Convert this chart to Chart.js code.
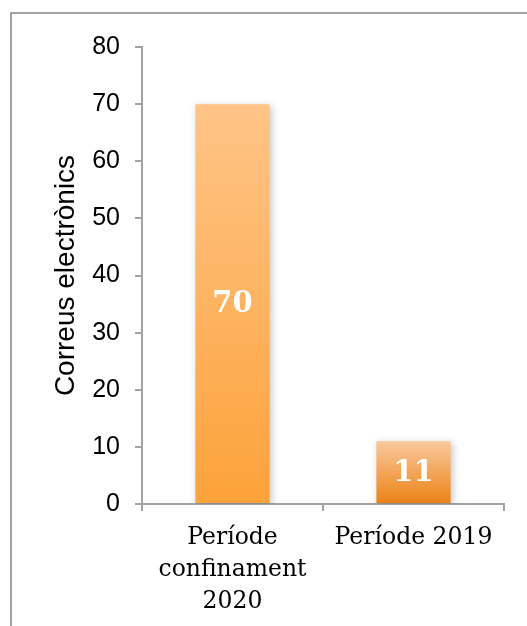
<!DOCTYPE html>
<html>
<head>
<meta charset="utf-8">
<script src="https://cdn.jsdelivr.net/npm/chart.js@4/dist/chart.umd.min.js"></script>
<style>
  html, body { margin: 0; padding: 0; background: #fff; }
  #frame {
    position: absolute; left: 10px; top: 12px; width: 540px; height: 640px;
    border-left: 2px solid #a3a3a3; border-top: 2px solid #a3a3a3;
  }
  #chartBox { position: absolute; left: 0; top: 0; width: 527px; height: 626px; }
</style>
</head>
<body>
<div id="frame"></div>
<div id="chartBox"><canvas id="mailChart" width="527" height="626"></canvas></div>
<script>
const categories = [["Període", "confinament", "2020"], "Període 2019"];
const emailCounts = [70, 11];
const yTicks = [0, 10, 20, 30, 40, 50, 60, 70, 80];
const barTop = ["#ffc487", "#f9c99d"];
const barBottom = ["#fca23a", "#ec8114"];

document.addEventListener("DOMContentLoaded", function () {
  const canvasEl = document.getElementById("mailChart");
  if (typeof Chart === "undefined") {
    console.error("Chart.js not loaded");
    return;
  }

  // soft shadow behind the bars
  const barShadow = {
    id: "barShadow",
    beforeDatasetsDraw(chart) {
      const c = chart.ctx;
      c.save();
      c.shadowColor = "rgba(0,0,0,0.22)";
      c.shadowBlur = 7;
      c.shadowOffsetX = 2;
      c.shadowOffsetY = 2;
    },
    afterDatasetsDraw(chart) {
      chart.ctx.restore();
    }
  };

  // value written in the middle of each bar
  const barValues = {
    id: "barValues",
    afterDatasetsDraw(chart) {
      const c = chart.ctx;
      const meta = chart.getDatasetMeta(0);
      c.save();
      c.fillStyle = "#ffffff";
      c.font = "bold 29px 'DejaVu Serif'";
      c.textAlign = "center";
      c.textBaseline = "middle";
      meta.data.forEach((bar, i) => {
        c.fillText(String(emailCounts[i]), bar.x, (bar.y + bar.base) / 2 + 1);
      });
      c.restore();
    }
  };

  new Chart(canvasEl.getContext("2d"), {
    type: "bar",
    data: {
      labels: categories,
      datasets: [{
        data: emailCounts,
        backgroundColor(context) {
          const chart = context.chart;
          const i = context.dataIndex;
          if (!chart.chartArea || !chart.scales.y) return barBottom[i];
          const top = chart.scales.y.getPixelForValue(emailCounts[i]);
          const bottom = chart.scales.y.getPixelForValue(0);
          const g = chart.ctx.createLinearGradient(0, top, 0, bottom);
          g.addColorStop(0, barTop[i]);
          g.addColorStop(1, barBottom[i]);
          return g;
        },
        borderWidth: 0,
        barPercentage: 0.41,
        categoryPercentage: 1
      }]
    },
    options: {
      responsive: false,
      animation: false,
      layout: { padding: { left: 0, top: 47, right: 23, bottom: 0 } },
      plugins: {
        legend: { display: false },
        tooltip: { enabled: false }
      },
      scales: {
        x: {
          afterFit(scale) { scale.height = 122; },
          border: { color: "#a3a3a3", width: 2 },
          grid: { drawOnChartArea: false, color: "#a3a3a3", lineWidth: 2, tickLength: 7 },
          ticks: {
            color: "#000",
            padding: 11,
            maxRotation: 0,
            font: { family: "'DejaVu Serif'", size: 23.5, lineHeight: 1.36 }
          }
        },
        y: {
          min: 0,
          max: 80,
          afterFit(scale) { scale.width = 142; },
          afterBuildTicks(scale) { scale.ticks = yTicks.map(v => ({ value: v })); },
          border: { color: "#a3a3a3", width: 2 },
          grid: { drawOnChartArea: false, color: "#a3a3a3", lineWidth: 2, tickLength: 7 },
          ticks: {
            color: "#000",
            padding: 15,
            font: { family: "'Liberation Sans'", size: 25 }
          },
          title: {
            display: true,
            text: "Correus electrònics",
            color: "#000",
            padding: { top: 49, bottom: 0 },
            font: { family: "'Liberation Sans'", size: 28, lineHeight: 1.2 }
          }
        }
      }
    },
    plugins: [barShadow, barValues]
  });
});
</script>
</body>
</html>
